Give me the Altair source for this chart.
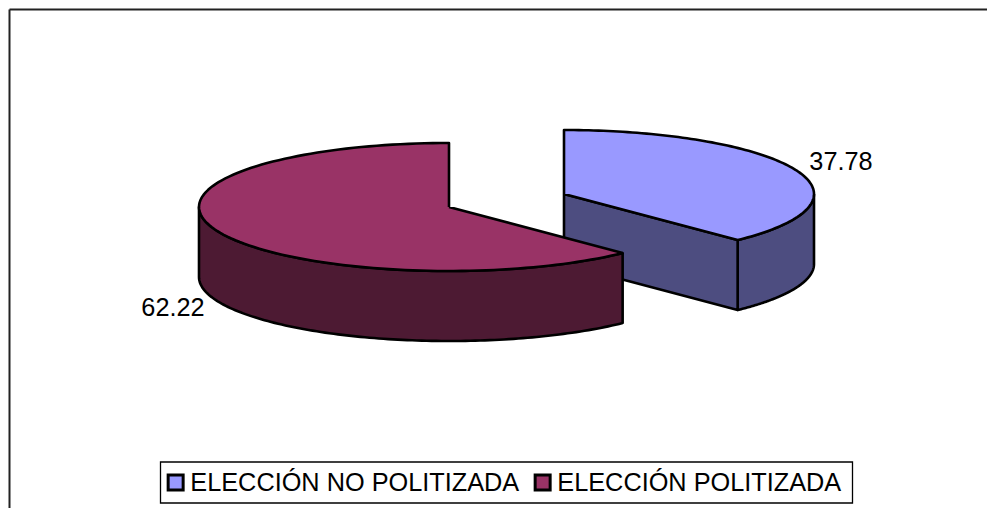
import numpy as np
import pandas as pd
import altair as alt

CATEGORIES = ["ELECCIÓN NO POLITIZADA", "ELECCIÓN POLITIZADA"]
VALUES = [37.78, 62.22]
TOP_COLORS = ["#9999FF", "#993366"]
SIDE_COLORS = ["#4D4D80", "#4D1A33"]

# pie geometry, in page pixels
RX, RY, DEPTH = 250, 64, 70
CENTERS = [(564, 194), (449, 207)]
LABEL_POS = [(841, 162), (173, 308)]

W, H = 987, 508
xs = alt.Scale(domain=[8, W], range=[0, W - 8])
ys = alt.Scale(domain=[8, H], range=[0, H - 8])
X = alt.X("x:Q", scale=xs, axis=None)
Y = alt.Y("y:Q", scale=ys, axis=None)


def rim(cx, cy, a0, a1, dy=0):
    t = np.radians(np.linspace(a0, a1, 121))
    return list(cx + RX * np.sin(t)), list(cy - RY * np.cos(t) + dy)


def shape(rows, part, cat, px, py):
    for i, (a, b) in enumerate(zip(px, py)):
        rows.append({"part": part, "cat": cat, "i": i, "x": float(a), "y": float(b)})


top_rows, side_rows = [], []
shares = [v / sum(VALUES) * 360 for v in VALUES]
cut = shares[0]

cx, cy = CENTERS[0]
px, py = rim(cx, cy, 0, cut)
shape(top_rows, "t0", CATEGORIES[0], [cx] + px + [cx], [cy] + py + [cy])
ax, ay = rim(cx, cy, 90, cut)
bx, by = rim(cx, cy, cut, 90, DEPTH)
shape(side_rows, "s0a", CATEGORIES[0], ax + bx + ax[:1], ay + by + ay[:1])
ex, ey = rim(cx, cy, cut, cut)
shape(side_rows, "s0b", CATEGORIES[0],
      [cx, ex[0], ex[0], cx, cx], [cy, ey[0], ey[0] + DEPTH, cy + DEPTH, cy])

cx, cy = CENTERS[1]
px, py = rim(cx, cy, cut, 360)
shape(top_rows, "t1", CATEGORIES[1], [cx] + px + [cx], [cy] + py + [cy])
ax, ay = rim(cx, cy, cut, 270)
bx, by = rim(cx, cy, 270, cut, DEPTH)
shape(side_rows, "s1", CATEGORIES[1], ax + bx + ax[:1], ay + by + ay[:1])

top_df = pd.DataFrame(top_rows)
side_df = pd.DataFrame(side_rows)
SW = 2.6
FS = 25.3


def faces(df, color, legend=False):
    enc = dict(x=X, y=Y, detail="part:N", order=alt.Order("i:Q"))
    if legend:
        mk = alt.Chart(df).mark_line(stroke="black", strokeWidth=SW, strokeJoin="round", clip=False)
        enc["fill"] = alt.Fill(
            "cat:N",
            scale=alt.Scale(domain=CATEGORIES, range=TOP_COLORS),
            legend=alt.Legend(
                title=None, orient="none", legendX=152, legendY=454, columns=2,
                direction="horizontal", symbolType="square", symbolSize=225,
                symbolStrokeColor="black", symbolStrokeWidth=3,
                labelFont="Liberation Sans", labelFontSize=FS, labelColor="black",
                labelLimit=500, labelOffset=2, columnPadding=10, clipHeight=35,
                padding=3, symbolOpacity=1,
            ),
        )
    else:
        mk = alt.Chart(df).mark_line(fill=color, stroke="black", strokeWidth=SW, strokeJoin="round", clip=False)
    return mk.encode(**enc)


labels = pd.DataFrame({
    "x": [p[0] for p in LABEL_POS],
    "y": [p[1] for p in LABEL_POS],
    "t": [f"{v:.2f}" for v in VALUES],
})
text = alt.Chart(labels).mark_text(
    font="Liberation Sans", fontSize=FS, color="black", baseline="middle", align="center"
).encode(x=X, y=Y, text="t:N")

frame = pd.DataFrame({"x": [9.5], "y": [9.5], "y2": [H]})
frame_v = alt.Chart(frame).mark_rule(color="#222222", strokeWidth=2).encode(x=X, y=Y, y2="y2:Q")
frame_h = alt.Chart(frame).mark_rule(color="#222222", strokeWidth=2).encode(x=X, x2=alt.X2(datum=W), y=Y)

legend_box = pd.DataFrame({"x": [160.5], "x2": [852.5], "y": [462], "y2": [503]})
box = alt.Chart(legend_box).mark_rect(fill="white", stroke="black", strokeWidth=1.3).encode(
    x=X, x2="x2:Q", y=Y, y2="y2:Q")

layers = [
    frame_v, frame_h, box,
    faces(side_df[side_df.cat == CATEGORIES[0]], SIDE_COLORS[0]),
    faces(top_df[top_df.cat == CATEGORIES[0]], TOP_COLORS[0]),
    faces(side_df[side_df.cat == CATEGORIES[1]], SIDE_COLORS[1]),
    faces(top_df, None, legend=True).transform_filter(alt.datum.part == "t1"),
    text,
]

chart = alt.layer(*layers).properties(
    width=W - 8, height=H - 8, padding=0, autosize="none", background="white",
).configure_view(stroke=None)

chart.save("out.html", embed_options={"renderer": "svg", "actions": False})
